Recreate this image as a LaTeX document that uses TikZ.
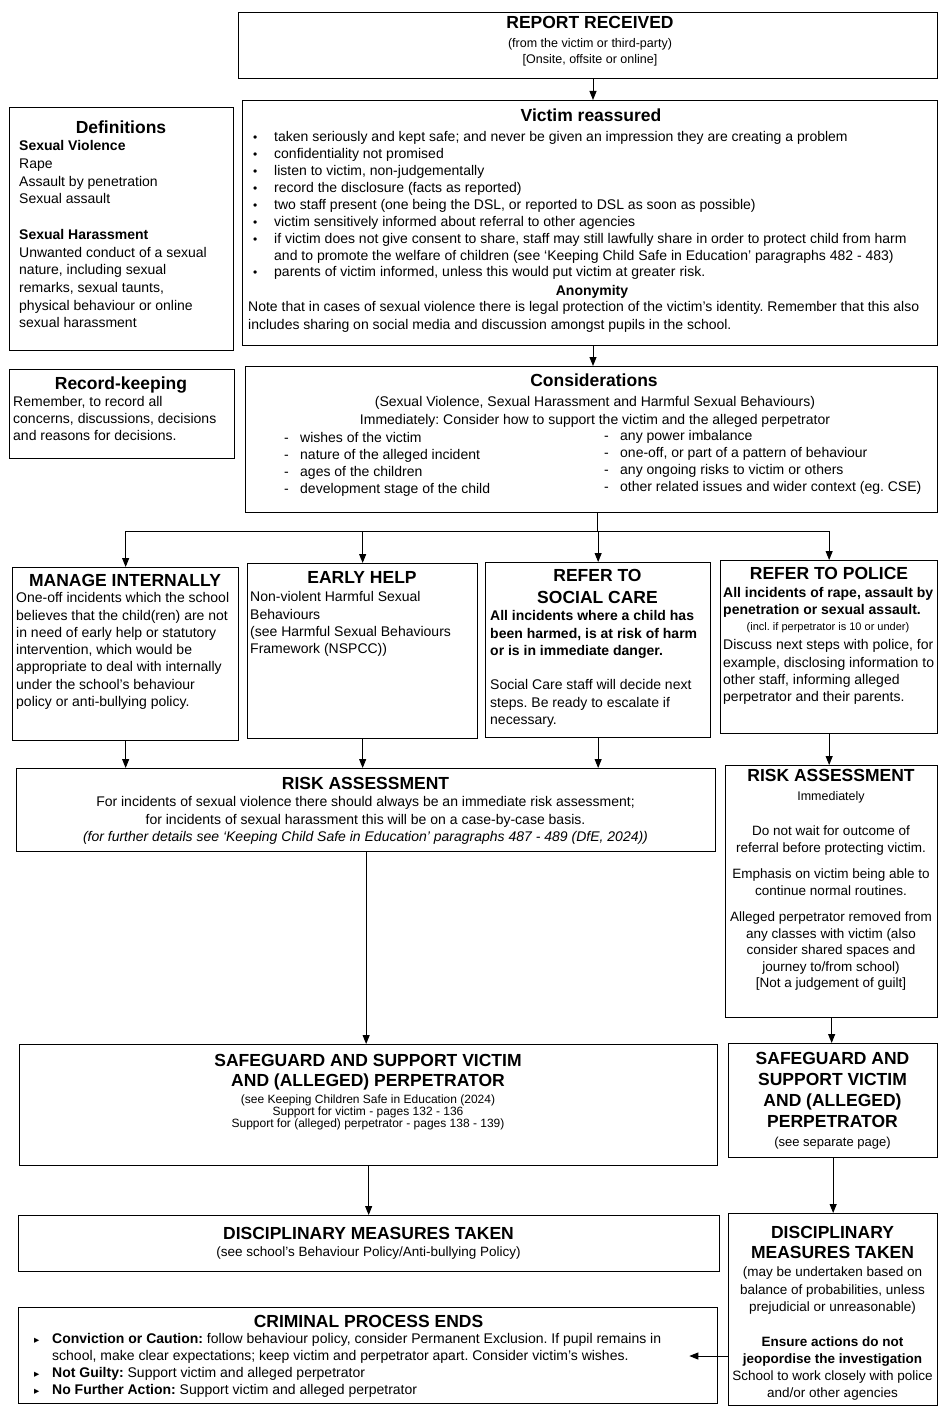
\documentclass[tikz,border=0pt]{standalone}
\usepackage{fontspec}
\setmainfont{Liberation Sans}
\newfontfamily\djv{DejaVu Sans}
\usetikzlibrary{arrows.meta,calc}
\AtBeginDocument{\frenchspacing}
\newcommand{\fs}[2]{\fontsize{#1}{#2}\selectfont}
\newcommand{\bul}{\makebox[21pt][l]{\fs{12}{12}\textbullet}}
\newcommand{\tri}{\makebox[18pt][l]{\djv\fs{10.5}{10.5}▸}}
\begin{document}
\begin{tikzpicture}[x=1pt,y=-1pt,
  box/.style={draw, line width=1.3pt, inner sep=0pt, anchor=north west},
  ltxt/.style={inner sep=0pt, anchor=north west, align=left, font=\fs{14}{17}},
  ctxt/.style={inner sep=0pt, anchor=north, align=center, font=\fs{14}{17}},
  ttl/.style={inner sep=0pt, anchor=north, align=center, font=\bfseries\fs{17.5}{21}},
  arr/.style={line width=1pt, -{Triangle[length=9pt,width=7pt]}},
  ln/.style={line width=1pt}]
\fill[white] (0,0) rectangle (940,1407);
\useasboundingbox (0,0) rectangle (940,1407);

% ---------- boxes ----------
\node[box, minimum width=699pt, minimum height=66pt]  (rep)   at (238,12)   {};
\node[box, minimum width=224pt, minimum height=243pt] (defs)  at (9,107)    {};
\node[box, minimum width=695pt, minimum height=245pt] (vic)   at (242,100)  {};
\node[box, minimum width=225pt, minimum height=89pt]  (rec)   at (9,369)    {};
\node[box, minimum width=692pt, minimum height=146pt] (cons)  at (245,366)  {};
\node[box, minimum width=226pt, minimum height=173pt] (man)   at (12,567)   {};
\node[box, minimum width=230pt, minimum height=175pt] (early) at (247,563)  {};
\node[box, minimum width=225pt, minimum height=175pt] (soc)   at (485,562)  {};
\node[box, minimum width=217pt, minimum height=173pt] (pol)   at (720,560)  {};
\node[box, minimum width=699pt, minimum height=83pt]  (risk)  at (16,768)   {};
\node[box, minimum width=212pt, minimum height=252pt] (rrisk) at (725,765)  {};
\node[box, minimum width=698pt, minimum height=121pt] (safe)  at (19,1044)  {};
\node[box, minimum width=209pt, minimum height=114pt] (rsafe) at (728,1043) {};
\node[box, minimum width=701pt, minimum height=56pt]  (disc)  at (18,1215)  {};
\node[box, minimum width=699pt, minimum height=96pt]  (crim)  at (18,1307)  {};
\node[box, minimum width=209pt, minimum height=192pt] (rdisc) at (728,1213) {};

% ---------- texts ----------
% report
\node[ttl] (repT) at (590,15.7) {REPORT RECEIVED};
\node[ctxt, font=\fs{12.5}{16}] (repB) at (590,38) {(from the victim or third-party)\\{[}Onsite, offsite or online{]}};

% definitions
\node[ttl] (defT) at (121,120.7) {Definitions};
\node[ltxt, font=\fs{14}{17.7}] (defB) at (19,140.5) {\textbf{Sexual Violence}\\Rape\\Assault by penetration\\Sexual assault\\[17.7pt]\textbf{Sexual Harassment}\\Unwanted conduct of a sexual\\nature, including sexual\\remarks, sexual taunts,\\physical behaviour or online\\sexual harassment};

% victim reassured
\node[ttl] (vicT) at (591,108.7) {Victim reassured};
\node[ltxt, font=\fs{14}{16.9}] (vicB) at (253,131.4) {%
\bul taken seriously and kept safe; and never be given an impression they are creating a problem\\
\bul confidentiality not promised\\
\bul listen to victim, non-judgementally\\
\bul record the disclosure (facts as reported)\\
\bul two staff present (one being the DSL, or reported to DSL as soon as possible)\\
\bul victim sensitively informed about referral to other agencies\\
\bul if victim does not give consent to share, staff may still lawfully share in order to protect child from harm\\
\hspace*{21pt}and to promote the welfare of children (see `Keeping Child Safe in Education' paragraphs 482 - 483)\\
\bul parents of victim informed, unless this would put victim at greater risk.};
\node[ctxt, font=\bfseries\fs{14}{17}] (anon) at (592,285.4) {Anonymity};
\node[ltxt, font=\fs{14}{18}] (note) at (248,301.4) {Note that in cases of sexual violence there is legal protection of the victim's identity. Remember that this also\\includes sharing on social media and discussion amongst pupils in the school.};

% record keeping
\node[ttl] (recT) at (121,376.7) {Record-keeping};
\node[ltxt] (recB) at (13,396.4) {Remember, to record all\\concerns, discussions, decisions\\and reasons for decisions.};

% considerations
\node[ttl] (consT) at (594,373.7) {Considerations};
\node[ctxt, font=\fs{14}{17.5}] (consS) at (595,396.4) {(Sexual Violence, Sexual Harassment and Harmful Sexual Behaviours)\\Immediately: Consider how to support the victim and the alleged perpetrator};
\node[ltxt] (consL) at (284,432.4) {\makebox[16pt][l]{-}wishes of the victim\\\makebox[16pt][l]{-}nature of the alleged incident\\\makebox[16pt][l]{-}ages of the children\\\makebox[16pt][l]{-}development stage of the child};
\node[ltxt] (consR) at (604,430.4) {\makebox[16pt][l]{-}any power imbalance\\\makebox[16pt][l]{-}one-off, or part of a pattern of behaviour\\\makebox[16pt][l]{-}any ongoing risks to victim or others\\\makebox[16pt][l]{-}other related issues and wider context (eg. CSE)};

% manage internally
\node[ttl] (manT) at (125,573.7) {MANAGE INTERNALLY};
\node[ltxt, font=\fs{14}{17.3}] (manB) at (16,592.4) {One-off incidents which the school\\believes that the child(ren) are not\\in need of early help or statutory\\intervention, which would be\\appropriate to deal with internally\\under the school's behaviour\\policy or anti-bullying policy.};

% early help
\node[ttl] (earlyT) at (362,571.7) {EARLY HELP};
\node[ltxt, font=\fs{14}{17.3}] (earlyB) at (250,591.4) {Non-violent Harmful Sexual\\Behaviours\\(see Harmful Sexual Behaviours\\Framework (NSPCC))};

% social care
\node[ttl, font=\bfseries\fs{17.5}{22}] (socT) at (597.5,568.7) {REFER TO\\SOCIAL CARE};
\node[ltxt, font=\fs{14}{17.3}] (socB) at (490,610.4) {\textbf{All incidents where a child has}\\\textbf{been harmed, is at risk of harm}\\\textbf{or is in immediate danger.}\\[17.3pt]Social Care staff will decide next\\steps. Be ready to escalate if\\necessary.};

% police
\node[ttl] (polT) at (829,566.7) {REFER TO POLICE};
\node[ltxt, font=\bfseries\fs{14}{17}] (polA) at (723,587.4) {All incidents of rape, assault by\\penetration or sexual assault.};
\node[ctxt, font=\fs{11}{13}] (polI) at (828,622.8) {(incl. if perpetrator is 10 or under)};
\node[ltxt, font=\fs{14}{17.3}] (polB) at (723,639.4) {Discuss next steps with police, for\\example, disclosing information to\\other staff, informing alleged\\perpetrator and their parents.};

% risk assessment (left)
\node[ttl] (riskT) at (365.5,776.7) {RISK ASSESSMENT};
\node[ctxt, font=\fs{14}{17.5}] (riskB) at (365.5,796.4) {For incidents of sexual violence there should always be an immediate risk assessment;\\for incidents of sexual harassment this will be on a case-by-case basis.\\\textit{(for further details see `Keeping Child Safe in Education' paragraphs 487 - 489 (DfE, 2024))}};

% risk assessment (right)
\node[ttl] (rriskT) at (831,768.7) {RISK ASSESSMENT};
\node[ctxt, font=\fs{12.5}{15}] (rriskI) at (831,791) {Immediately};
\node[ctxt, font=\fs{13.5}{16.5}] (rriskB) at (831,825.7) {Do not wait for outcome of\\referral before protecting victim.\\[10pt]Emphasis on victim being able to\\continue normal routines.\\[10pt]Alleged perpetrator removed from\\any classes with victim (also\\consider shared spaces and\\journey to/from school)\\{[}Not a judgement of guilt{]}};

% safeguard (left)
\node[ttl, font=\bfseries\fs{17.5}{20}] (safeT) at (368,1053.7) {SAFEGUARD AND SUPPORT VICTIM\\AND (ALLEGED) PERPETRATOR};
\node[ctxt, font=\fs{12}{12.3}] (safeB) at (368,1094.4) {(see Keeping Children Safe in Education (2024)\\Support for victim - pages 132 - 136\\Support for (alleged) perpetrator - pages 138 - 139)};

% safeguard (right)
\node[ttl, font=\bfseries\fs{17.5}{21}] (rsafeT) at (832.5,1051.7) {SAFEGUARD AND\\SUPPORT VICTIM\\AND (ALLEGED)\\PERPETRATOR};
\node[ctxt, font=\fs{13}{15}] (rsafeB) at (832.5,1137) {(see separate page)};

% disciplinary (left)
\node[ttl] (discT) at (368.5,1226.7) {DISCIPLINARY MEASURES TAKEN};
\node[ctxt, font=\fs{13.5}{16}] (discB) at (368.5,1246.7) {(see school's Behaviour Policy/Anti-bullying Policy)};

% criminal process
\node[ttl] (crimT) at (368.5,1314.7) {CRIMINAL PROCESS ENDS};
\node[ltxt, font=\fs{14}{17}] (crimB) at (34,1333.4) {%
\tri\textbf{Conviction or Caution:} follow behaviour policy, consider Permanent Exclusion. If pupil remains in\\
\hspace*{18pt}school, make clear expectations; keep victim and perpetrator apart. Consider victim's wishes.\\
\tri\textbf{Not Guilty:} Support victim and alleged perpetrator\\
\tri\textbf{No Further Action:} Support victim and alleged perpetrator};

% disciplinary (right)
\node[ttl, font=\bfseries\fs{17.5}{20}] (rdiscT) at (832.5,1225.7) {DISCIPLINARY\\MEASURES TAKEN};
\node[ctxt, font=\fs{13.5}{17.5}] (rdiscS) at (832.5,1266.7) {(may be undertaken based on\\balance of probabilities, unless\\prejudicial or unreasonable)};
\node[ctxt, font=\fs{13.5}{17}] (rdiscB) at (832.5,1336.5) {\textbf{Ensure actions do not}\\\textbf{jeopordise the investigation}\\School to work closely with police\\and/or other agencies};

% ---------- connectors ----------
\coordinate (spine) at (593,0);
\coordinate (spine2) at (597,531);
\coordinate (crimy) at (0,1356);
\coordinate (crimtip) at ($(crim.east |- crimy)+(-29,0)$);
\draw[arr] (rep.south -| spine) -- (vic.north -| spine);
\draw[arr] (vic.south -| spine) -- (cons.north -| spine);
\draw[ln] (cons.south -| spine2) -- (spine2);
\draw[ln] (man.north |- spine2) -- (pol.north |- spine2);
\draw[arr] (man.north |- spine2) -- (man.north);
\draw[arr] (early.north |- spine2) -- (early.north);
\draw[arr] (soc.north |- spine2) -- (soc.north);
\draw[arr] (pol.north |- spine2) -- (pol.north);
\draw[arr] (man.south) -- (man.south |- risk.north);
\draw[arr] (early.south) -- (early.south |- risk.north);
\draw[arr] (soc.south) -- (soc.south |- risk.north);
\draw[arr] (pol.south) -- (pol.south |- rrisk.north);
\draw[arr] (risk.south) -- (risk.south |- safe.north);
\draw[arr] (rrisk.south) -- (rrisk.south |- rsafe.north);
\draw[arr] (safe.south) -- (safe.south |- disc.north);
\draw[arr] (rsafe.south) -- (rsafe.south |- rdisc.north);
\draw[arr] (rdisc.west |- crimy) -- (crimtip);
\end{tikzpicture}
\end{document}
